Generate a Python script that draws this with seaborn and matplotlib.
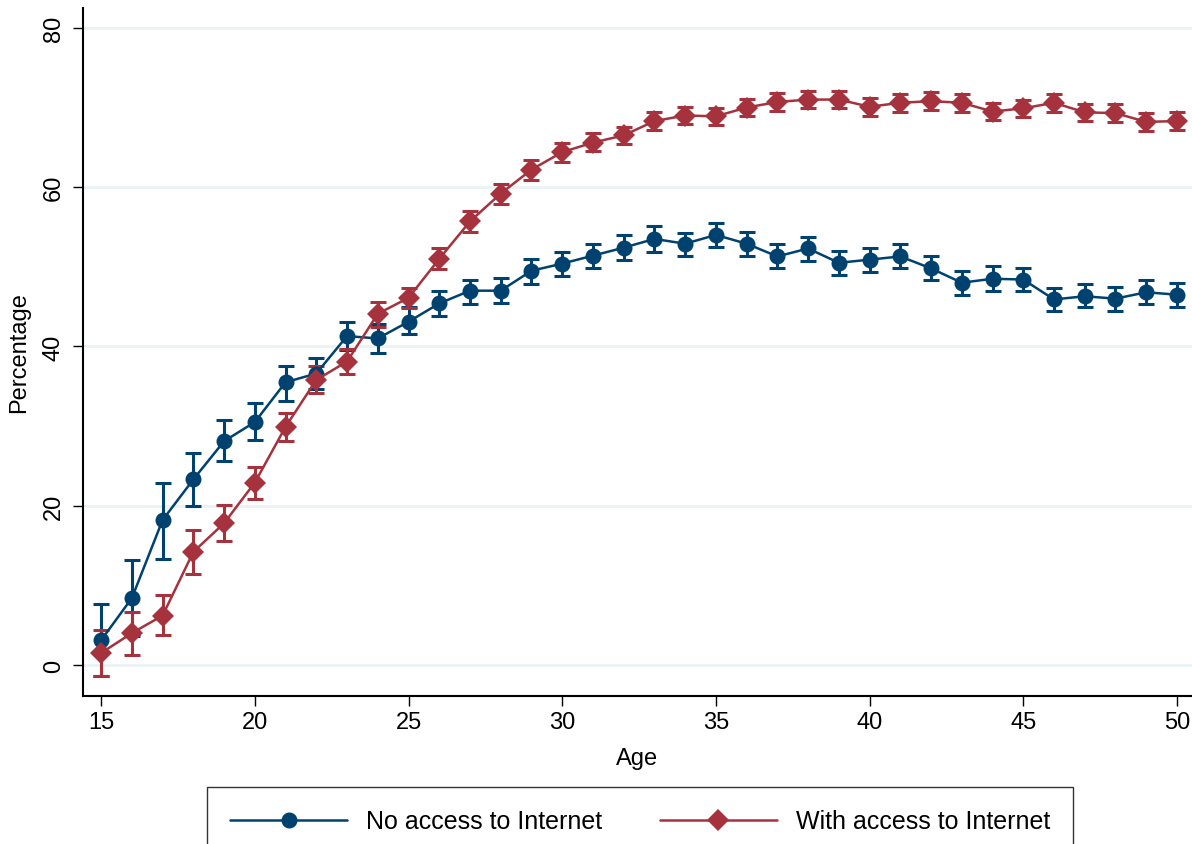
import numpy as np
import pandas as pd
import matplotlib
matplotlib.use("Agg")
import matplotlib.pyplot as plt
import seaborn as sns
from matplotlib.lines import Line2D

ages = list(range(15, 51))

no_access = [3.1, 8.4, 18.2, 23.3, 28.1, 30.5, 35.5, 36.6, 41.3, 41.0,
             43.1, 45.4, 47.0, 47.0, 49.5, 50.4, 51.4, 52.4, 53.5, 52.9,
             54.0, 52.9, 51.3, 52.3, 50.5, 50.9, 51.3, 49.8, 48.0, 48.5,
             48.4, 45.9, 46.3, 46.0, 46.8, 46.5]
no_access_lo = [-1.4, 3.6, 13.3, 19.9, 25.6, 28.3, 33.2, 34.6, 39.5, 39.2,
                41.5, 43.8, 45.3, 45.5, 47.9, 48.8, 49.9, 50.9, 51.9, 51.3,
                52.5, 51.3, 49.8, 50.7, 49.0, 49.4, 49.8, 48.3, 46.5, 47.0,
                46.9, 44.4, 44.9, 44.5, 45.3, 45.0]
no_access_hi = [7.6, 13.2, 22.9, 26.6, 30.8, 32.9, 37.5, 38.5, 43.1, 42.8,
                44.9, 47.0, 48.4, 48.6, 51.0, 51.9, 52.9, 54.0, 55.1, 54.3,
                55.5, 54.4, 52.9, 53.8, 52.0, 52.4, 52.9, 51.3, 49.5, 50.1,
                49.9, 47.4, 47.8, 47.5, 48.3, 48.0]

with_access = [1.5, 4.0, 6.2, 14.2, 17.8, 22.9, 29.9, 35.8, 38.1, 44.1,
               46.1, 51.0, 55.7, 59.2, 62.2, 64.4, 65.6, 66.5, 68.3, 69.0,
               68.9, 70.0, 70.7, 71.0, 71.0, 70.1, 70.6, 70.8, 70.6, 69.5,
               69.9, 70.6, 69.4, 69.3, 68.2, 68.3]
with_access_lo = [-1.4, 1.3, 3.7, 11.4, 15.6, 20.9, 28.1, 34.1, 36.6, 42.5,
                  44.8, 49.7, 54.4, 57.9, 60.9, 63.2, 64.5, 65.4, 67.2, 67.9,
                  67.8, 68.9, 69.6, 69.9, 69.9, 69.0, 69.5, 69.7, 69.5, 68.4,
                  68.8, 69.5, 68.3, 68.2, 67.1, 67.2]
with_access_hi = [4.4, 6.7, 8.8, 16.9, 20.1, 24.8, 31.7, 37.5, 39.7, 45.6,
                  47.4, 52.4, 57.0, 60.4, 63.4, 65.6, 66.8, 67.6, 69.4, 70.1,
                  70.0, 71.1, 71.8, 72.1, 72.1, 71.2, 71.7, 71.9, 71.7, 70.6,
                  71.0, 71.7, 70.5, 70.4, 69.3, 69.4]

labels = ["No access to Internet", "With access to Internet"]
x_ticks = [15, 20, 25, 30, 35, 40, 45, 50]
y_ticks = [0, 20, 40, 60, 80]

BLUE = "#00426f"
RED = "#a5323c"

sns.set_theme(style="white")
plt.rcParams['font.family'] = ['Liberation Sans', 'DejaVu Sans']
plt.rcParams['text.color'] = 'black'
plt.rcParams['axes.labelcolor'] = 'black'
plt.rcParams['xtick.color'] = 'black'
plt.rcParams['ytick.color'] = 'black'

fig = plt.figure(figsize=(11.92, 8.45), dpi=100)
ax = fig.add_axes([83/1192, 1 - 697/845, 1 - 83/1192, (697 - 9)/845])

df = pd.DataFrame({
    "Age": ages * 2,
    "Percentage": no_access + with_access,
    "Group": [labels[0]] * len(ages) + [labels[1]] * len(ages),
})

for vals, lo, hi, col in [(no_access, no_access_lo, no_access_hi, BLUE),
                          (with_access, with_access_lo, with_access_hi, RED)]:
    v = np.array(vals); l = np.array(lo); h = np.array(hi)
    ax.errorbar(ages, v, yerr=[v - l, h - v], fmt='none', ecolor=col,
                elinewidth=2.2, capsize=5.5, capthick=2.2, zorder=2)

sns.lineplot(data=df, x="Age", y="Percentage", hue="Group", style="Group",
             palette=[BLUE, RED], markers=["o", "D"], dashes=False,
             markersize=11.5, linewidth=1.8, markeredgewidth=0, ax=ax,
             legend=False, zorder=3)

ax.set_xlim(14.41, 50.49)
ax.set_ylim(-3.9, 82.5)
ax.set_xticks(x_ticks)
ax.set_yticks(y_ticks)
ax.set_yticklabels([str(t) for t in y_ticks], rotation=90, va='center')
ax.tick_params(axis='both', which='major', direction='out', length=7,
               width=1.0, color='black', labelcolor='black', labelsize=17,
               pad=4, left=True, bottom=True)
ax.tick_params(axis='y', pad=6)
ax.grid(axis='y', color='#eaf2f3', linewidth=2.0)
ax.grid(axis='x', visible=False)
ax.set_axisbelow(True)
for s in ['top', 'right']:
    ax.spines[s].set_visible(False)
for s in ['left', 'bottom']:
    ax.spines[s].set_color('black')
    ax.spines[s].set_linewidth(1.5)

ax.set_xlabel("Age", fontsize=17, labelpad=10, color='black')
ax.set_ylabel("Percentage", fontsize=17, labelpad=9, color='black')

handles = [Line2D([], [], color=BLUE, marker='o', markersize=11.5, linewidth=1.8,
                  markeredgewidth=0),
           Line2D([], [], color=RED, marker='D', markersize=11.5, linewidth=1.8,
                  markeredgewidth=0)]
leg = fig.legend(handles, labels, loc='upper center',
                 bbox_to_anchor=(640/1192, 1 - 788/845), ncol=2,
                 fontsize=18, frameon=True, fancybox=False, edgecolor='black',
                 handlelength=4.7, handletextpad=0.75, columnspacing=2.3,
                 borderpad=0.9, borderaxespad=0)
leg.get_frame().set_linewidth(1.0)
for t in leg.get_texts():
    t.set_color('black')

fig.savefig("out.png", dpi=100)
